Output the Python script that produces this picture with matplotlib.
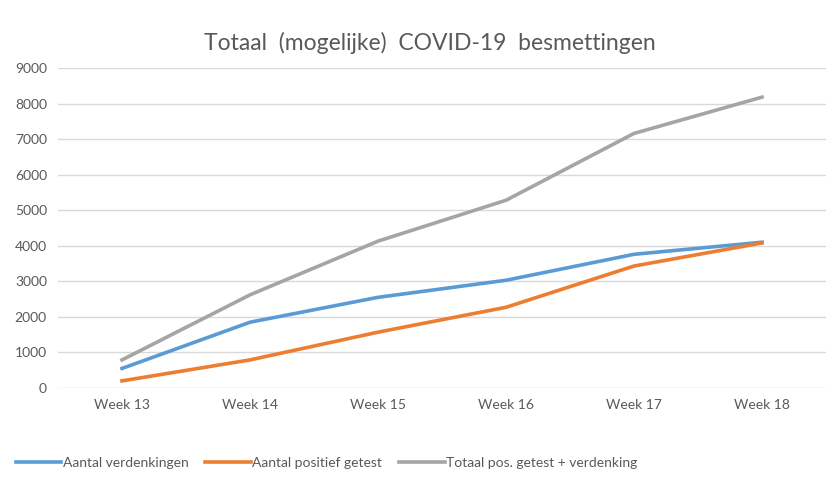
import matplotlib.pyplot as plt

weeks = ['Week 13', 'Week 14', 'Week 15', 'Week 16', 'Week 17', 'Week 18']
verdenkingen = [550, 1850, 2550, 3030, 3760, 4100]
positief = [200, 790, 1570, 2270, 3430, 4080]
totaal = [790, 2620, 4130, 5280, 7160, 8180]

plt.rcParams['font.family'] = ['Lato', 'DejaVu Sans']

fig = plt.figure(figsize=(8.27, 4.90), dpi=100)
ax = fig.add_axes([58 / 827, 1 - 388 / 490, 768 / 827, 320 / 490])

x = range(len(weeks))
ax.plot(x, verdenkingen, color='#5B9BD5', lw=2.6, label='Aantal verdenkingen')
ax.plot(x, positief, color='#ED7D31', lw=2.6, label='Aantal positief getest')
ax.plot(x, totaal, color='#A5A5A5', lw=2.6, label='Totaal pos. getest + verdenking')

ax.set_xlim(-0.5, len(weeks) - 0.5)
ax.set_ylim(0, 9000)
ax.set_yticks(range(0, 9001, 1000))
ax.set_xticks(list(x))
ax.set_xticklabels(weeks)
ax.grid(axis='y', color='#D9D9D9', lw=1)
ax.set_axisbelow(True)
for s in ax.spines.values():
    s.set_visible(False)
ax.tick_params(length=0, labelsize=10, colors='#595959', pad=8)

fig.text(430 / 827, 1 - 43 / 490, 'Totaal  (mogelijke)  COVID-19  besmettingen',
         ha='center', va='center', fontsize=16.5, color='#595959')

fig.legend(loc='center left', bbox_to_anchor=(10 / 827, 1 - 463 / 490), ncol=3,
           frameon=False, fontsize=10, labelcolor='#595959', handlelength=3.3,
           handletextpad=0.1, columnspacing=1.2, borderaxespad=0)

fig.savefig('out.png', dpi=100)
